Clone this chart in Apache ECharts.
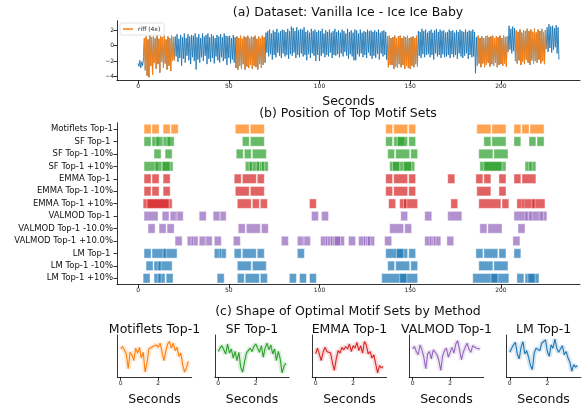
<!DOCTYPE html>
<html><head><meta charset="utf-8">
<script src="https://cdn.jsdelivr.net/npm/echarts@6/dist/echarts.min.js"></script>
<style>html,body{margin:0;padding:0;background:#fff}#c{width:588px;height:408px}</style>
</head><body><div id="c"></div><script>
// ---------- (a) time series, sampled every 0.5 s from t = 0 ----------
const sampleStep = 0.5;
const signal = [
-2.3,-2.7,-1.9,-2.9,-2.1,-2.6,-1.7,1.0,-3.2,1.2,
-3.9,0.8,-4.1,1.3,-2.6,1.1,-3.8,1.2,-2.2,1.0,
-3.0,1.3,-2.4,0.9,-3.5,1.2,-2.1,1.1,-2.9,1.3,
-2.3,0.8,-3.1,1.2,-2.6,1.0,-3.3,1.3,-2.0,1.1,
-1.9,1.2,-1.4,1.5,-2.1,0.9,-1.6,1.4,-2.6,1.1,
-1.7,1.6,-2.2,1.0,-1.3,1.5,-1.9,1.2,-2.4,1.4,
-1.5,1.3,-2.0,1.6,-3.1,1.1,-1.8,1.5,-2.2,1.0,
-1.5,1.6,-2.0,1.2,-1.3,1.4,-2.4,1.6,-1.7,1.1,
-2.1,1.5,-1.6,1.3,-2.3,1.0,-1.4,1.4,-1.9,1.2,
-2.2,1.5,-1.5,1.1,-2.0,1.6,-1.7,1.3,-2.5,1.2,
-1.6,1.3,-2.3,1.0,-1.8,1.4,-2.2,1.1,-2.9,1.2,
-3.1,1.0,-2.6,1.3,-3.0,0.9,-2.4,1.2,-3.1,1.1,
-2.7,1.3,-2.9,1.0,-2.5,1.2,-3.0,1.1,-2.6,1.3,
-2.8,0.9,-3.1,1.2,-2.4,1.0,-2.9,1.3,-2.5,1.1,
-2.2,1.7,-0.9,1.9,-1.4,2.1,-1.1,1.6,-1.8,2.0,
-1.2,1.8,-1.5,2.2,-0.9,1.7,-1.3,1.9,-1.6,2.1,
-1.0,2.0,-1.4,1.8,-1.2,2.2,-1.7,1.9,-1.1,2.5,
-1.3,2.3,-0.9,1.9,-1.6,2.4,-1.2,2.0,-1.5,2.2,
-1.0,2.1,-1.4,2.4,-1.2,1.8,-1.9,2.0,-1.1,1.7,
-1.6,2.2,-1.0,1.9,-1.3,2.1,-2.0,1.8,-1.2,2.0,
-2.0,1.9,-1.3,2.2,-1.0,1.6,-1.5,2.0,-1.2,1.8,
-1.4,2.1,-0.9,1.7,-1.6,1.9,-1.2,2.2,-1.3,1.8,
-1.1,2.0,-1.5,1.7,-1.0,2.1,-1.4,1.9,-0.8,1.6,
-1.3,2.2,-1.7,1.8,-1.1,2.0,-1.4,1.7,-1.9,2.1,
-1.9,2.0,-1.1,1.6,-1.4,2.1,-1.0,1.7,-1.5,1.9,
-1.2,1.8,-1.6,2.1,-0.9,1.9,-1.3,2.0,-1.7,1.8,
-1.3,2.0,-1.6,1.8,-1.1,2.1,-1.8,1.7,-1.0,1.9,
-1.4,2.0,-1.2,1.8,-1.8,1.2,-2.8,1.3,-2.5,1.0,
-2.5,1.1,-3.0,1.3,-2.7,1.0,-2.9,1.2,-2.4,1.3,
-2.8,1.0,-2.5,1.2,-3.0,1.1,-2.6,1.3,-2.9,1.0,
-3.0,1.1,-2.6,1.2,-2.8,1.0,-2.4,1.3,-2.7,1.9,
-1.3,1.8,-1.6,2.2,-1.1,1.9,-1.5,2.1,-1.2,1.7,
-1.1,1.9,-1.5,2.1,-1.2,1.7,-1.8,2.0,-1.0,2.2,
-1.4,1.8,-1.2,2.1,-1.6,1.9,-1.1,2.0,-1.5,1.7,
-1.4,1.8,-1.2,2.1,-1.6,1.9,-1.1,2.0,-1.5,1.7,
-1.2,2.0,-1.7,1.8,-1.0,2.1,-1.4,1.9,-1.6,1.8,
-1.3,2.1,-1.0,1.8,-1.7,2.0,-1.2,1.9,-1.5,2.1,
-1.4,1.8,-3.6,1.1,-2.6,1.3,-2.3,1.0,-2.8,1.2,
-2.3,1.0,-2.8,1.2,-2.5,1.3,-2.2,1.1,-2.7,1.2,
-2.4,1.3,-2.6,1.0,-2.2,1.2,-2.8,1.1,-2.5,1.3,
-2.4,1.0,-2.6,1.3,-2.3,1.1,-2.7,1.2,-0.8,2.6,
-0.5,2.2,-1.0,2.5,-0.7,2.3,-2.0,2.0,-2.3,1.8,
-1.9,2.1,-2.5,1.7,-2.1,2.0,-2.4,1.9,-1.8,2.2,
-2.2,1.9,-2.5,2.1,-1.9,1.8,-2.3,2.2,-2.0,1.7,
-2.2,2.1,-1.8,1.9,-2.3,2.2,-2.0,1.8,-2.4,2.0,
-0.4,2.4,-0.8,2.8,-0.3,2.5,-0.9,2.6,-0.5,2.3,
-0.2,2.7,-1.0,2.4,-1.8
];
const riffSegments = [[3,20],[54,70],[137.5,154],[187,204],[208,225]];
const timeTicks = [0,50,100,150,200];
const ampTicks = [-4,-2,0,2];

// ---------- (b) motif positions: [start s, end s] ----------
const rowLabels = ['Motiflets Top-1','SF Top-1 ','SF Top-1 -10%','SF Top-1 +10%','EMMA Top-1 ','EMMA Top-1 -10%','EMMA Top-1 +10%','VALMOD Top-1 ','VALMOD Top-1 -10.0%','VALMOD Top-1 +10.0%','LM Top-1 ','LM Top-1 -10%','LM Top-1 +10%'];
const rowColors = ['#ff7f0e','#2ca02c','#2ca02c','#2ca02c','#d62728','#d62728','#d62728','#9467bd','#9467bd','#9467bd','#1f77b4','#1f77b4','#1f77b4'];
const motifletsTop1 = [[3.3,7.2],[7.7,11.6],[13.8,17.7],[18.2,22.1],[53.6,61.3],[61.9,69.6],[136.5,140.3],[140.9,148.6],[149.2,153.0],[186.7,194.5],[195.0,202.8],[207.2,211.0],[211.6,215.5],[216.0,223.8]];
const sfTop1 = [[3.3,7.2],[7.7,11.6],[9.9,13.8],[13.8,17.7],[16.0,19.9],[57.5,61.3],[61.9,69.6],[136.5,140.3],[140.9,146.8],[142.9,148.6],[149.2,153.0],[190.6,194.5],[195.0,202.8],[207.2,211.0],[215.5,219.3],[219.9,223.8]];
const sfTop1Minus10 = [[8.8,12.7],[14.9,18.8],[54.1,58.0],[58.6,62.4],[63.0,70.7],[137.6,141.4],[142.0,149.7],[150.3,154.1],[187.8,195.6],[196.1,203.9]];
const sfTop1Plus10 = [[3.3,11.0],[9.4,13.3],[13.3,19.3],[13.3,17.7],[59.1,71.8],[61.3,63.0],[65.2,66.9],[68.0,69.6],[138.7,152.5],[140.3,144.2],[146.4,150.8],[188.4,202.8],[190.6,200.6],[213.3,219.3],[215.5,217.1]];
const emmaTop1 = [[3.3,7.2],[7.7,11.6],[13.8,17.7],[53.0,56.9],[57.5,65.2],[65.7,69.6],[136.5,140.3],[140.9,148.6],[149.2,153.0],[170.7,174.6],[186.2,190.1],[190.6,194.5],[198.9,202.8],[207.2,211.0],[211.6,219.3]];
const emmaTop1Minus10 = [[3.3,7.2],[7.7,11.6],[13.8,17.7],[53.6,61.3],[61.9,69.6],[136.5,140.3],[140.9,148.6],[149.2,153.0],[186.7,194.5],[198.9,202.8]];
const emmaTop1Plus10 = [[2.8,18.8],[5.0,17.1],[54.7,62.4],[63.0,66.9],[67.4,71.3],[94.5,98.3],[138.1,142.0],[144.2,154.1],[146.4,148.1],[172.4,176.2],[187.8,200.0],[200.6,204.4],[208.8,224.3],[211.6,212.7],[217.1,218.8]];
const valmodTop1 = [[3.3,11.0],[13.3,17.1],[17.7,24.9],[21.0,21.5],[33.7,37.6],[41.4,48.6],[44.9,45.4],[95.6,99.4],[101.1,105.0],[144.8,148.6],[158.0,161.9],[170.7,178.5],[207.2,225.4],[213.3,214.9],[215.5,217.1],[221.5,223.2]];
const valmodTop1Minus10 = [[5.5,9.4],[11.6,15.5],[16.0,19.9],[55.2,59.1],[59.7,67.4],[68.0,71.8],[138.7,146.4],[147.0,150.8],[188.4,192.3],[192.8,200.6],[209.4,213.3]];
const valmodTop1Plus10 = [[20.4,24.3],[27.1,33.1],[29.3,30.4],[33.7,40.9],[37.0,37.5],[42.0,45.9],[52.5,56.4],[79.0,82.9],[87.8,95.0],[91.0,91.5],[100.6,113.8],[103.3,104.4],[106.1,107.2],[108.3,111.6],[116.0,119.9],[121.5,130.4],[124.3,125.4],[126.5,128.2],[135.9,139.8],[158.0,166.9],[160.8,161.9],[163.0,164.1],[170.2,174.0],[206.6,210.5]];
const lmTop1 = [[3.3,7.2],[7.7,21.5],[13.8,15.5],[42.0,48.6],[44.8,45.9],[53.0,56.9],[57.5,65.2],[65.7,69.6],[87.8,91.7],[136.5,148.6],[142.5,146.4],[149.2,153.0],[186.2,190.1],[190.6,198.3],[198.9,202.8],[207.2,211.0]];
const lmTop1Minus10 = [[4.4,8.3],[8.8,18.8],[11.0,12.7],[54.7,62.4],[63.0,70.7],[137.6,141.4],[142.0,149.7],[150.3,154.1],[187.8,195.6],[196.1,203.9]];
const lmTop1Plus10 = [[2.8,6.6],[8.8,14.9],[11.0,12.7],[15.5,19.3],[43.6,47.5],[54.7,58.6],[59.1,66.9],[67.4,71.3],[83.4,87.3],[89.0,92.8],[94.5,98.3],[134.3,154.1],[144.2,148.1],[184.5,204.4],[194.5,198.3],[208.8,212.7],[213.3,221.0],[214.9,218.8]];
const rowIntervals = [motifletsTop1,sfTop1,sfTop1Minus10,sfTop1Plus10,emmaTop1,emmaTop1Minus10,emmaTop1Plus10,valmodTop1,valmodTop1Minus10,valmodTop1Plus10,lmTop1,lmTop1Minus10,lmTop1Plus10];

// ---------- (c) motif shapes, sampled every 0.1 s ----------
const shapeStep = 0.1;
const shapeTitles = ['Motiflets Top-1','SF Top-1','EMMA Top-1','VALMOD Top-1','LM Top-1'];
const shapeColors = ['#ff7f0e','#2ca02c','#d62728','#9467bd','#1f77b4'];
const shapeTicks = [0,2];
const motifletsShape = [0.8,1.1,1.3,0.2,-1.6,0.4,0.1,-0.6,0.9,0.3,1.0,-0.3,0.4,-2.0,-0.9,0.8,0.6,1.1,0.9,1.3,1.0,1.5,1.6,-0.6,0.5,1.4,1.7,0.9,1.5,0.6,1.0,-0.1,0.3,-1.1,-2.0,-1.5,-0.7];
const sfShape = [0.5,0.9,1.2,0.7,0.2,1.4,0.3,0.8,-0.3,0.5,-0.6,0.4,-1.4,-2.0,-0.8,0.3,0.6,0.9,0.5,1.1,1.4,1.6,0.4,1.2,-0.2,0.9,1.5,0.7,1.3,0.2,0.8,-0.6,0.5,-0.4,-2.1,-1.3,-0.9];
const emmaShape = [0.2,0.9,1.0,-0.6,0.4,1.0,0.5,0.7,0.3,-0.9,-1.8,-0.4,0.6,0.3,1.0,0.7,1.1,0.8,1.4,0.5,1.2,0.9,1.6,0.6,1.2,0.3,1.7,1.3,0.2,0.5,-0.3,0.1,-1.0,-2.1,-1.2,-1.5,-1.3];
const valmodShape = [0.8,1.1,0.5,0.1,1.3,0.7,-0.2,-1.6,0.2,0.5,-0.4,0.7,0.9,0.1,-0.6,-1.8,0.0,0.6,0.9,-0.2,0.4,1.0,0.3,1.4,1.8,0.7,-0.5,0.4,1.0,1.5,0.8,0.4,1.2,1.4,0.9,0.7,0.8];
const lmShape = [0.4,0.9,1.3,1.6,0.2,-0.4,1.0,1.7,0.2,0.6,-0.2,-1.2,-1.7,0.3,0.9,1.1,0.6,1.5,1.4,1.9,0.5,-0.1,1.3,0.9,2.0,0.9,0.4,0.8,1.2,0.1,0.5,-0.3,-0.8,-1.9,-1.1,-1.4,-1.2];
const shapes = [motifletsShape,sfShape,emmaShape,valmodShape,lmShape];

// ---------- build ----------
const FONT = 'DejaVu Sans';
const TXT = '#111';
const minusFmt = v => String(v).replace('-', '\u2212');
const line = {show:true, onZero:false, lineStyle:{color:'#000', width:0.8}};
const tick = vals => ({show:true, length:3.5, customValues:vals, lineStyle:{color:'#000', width:0.8}});
const lab = (vals, fs) => ({show:true, customValues:vals, fontSize:fs, color:'#222', fontFamily:FONT, margin:3, formatter:minusFmt});

const blueData = signal.map((v,i)=>[i*sampleStep, v]);
const orangeData = [];
riffSegments.forEach(([a,b])=>{
  signal.forEach((v,i)=>{ const t=i*sampleStep; if(t>=a && t<=b) orangeData.push([t,v]); });
  orangeData.push([b+0.25,null]);
});

const intervalData = [];
rowIntervals.forEach((arr,r)=>arr.forEach(([s,e])=>intervalData.push({value:[s,e,r], itemStyle:{color:rowColors[r]}})));

const cLeft = [117.3,214.8,312.2,409.2,506.4];
const cW = 74.4;

const grids = [
  {left:117, width:463, top:20.8, height:59.8},
  {left:117, width:463, top:122.8, height:161.7}
];
cLeft.forEach(l=>grids.push({left:l, width:cW, top:335, height:42}));

const xAxes = [
  {gridIndex:0, type:'value', min:-11.6, max:243.6, axisLine:line, axisTick:tick(timeTicks), axisLabel:lab(timeTicks,6), splitLine:{show:false},
   name:'Seconds', nameLocation:'middle', nameGap:15, nameTextStyle:{fontSize:12.5, color:TXT, fontFamily:FONT}},
  {gridIndex:1, type:'value', min:-11.6, max:243.6, axisLine:line, axisTick:tick(timeTicks), axisLabel:lab(timeTicks,6), splitLine:{show:false}}
];
const yAxes = [
  {gridIndex:0, type:'value', min:-4.55, max:3.25, axisLine:line, axisTick:tick(ampTicks), axisLabel:lab(ampTicks,6), splitLine:{show:false}},
  {gridIndex:1, type:'category', data:rowLabels, inverse:true, axisLine:line,
   axisTick:{show:true, length:3.5, alignWithLabel:true, lineStyle:{color:'#000', width:0.8}},
   axisLabel:{fontSize:8.5, color:TXT, fontFamily:FONT, margin:4}, splitLine:{show:false}}
];
cLeft.forEach((l,i)=>{
  xAxes.push({gridIndex:2+i, type:'value', min:-0.18, max:3.78, axisLine:line, axisTick:tick(shapeTicks), axisLabel:lab(shapeTicks,6), splitLine:{show:false},
    name:'Seconds', nameLocation:'middle', nameGap:16, nameTextStyle:{fontSize:12.5, color:TXT, fontFamily:FONT}});
  yAxes.push({gridIndex:2+i, type:'value', min:-2.6, max:2.5, axisLine:line, axisTick:{show:false}, axisLabel:{show:false}, splitLine:{show:false}});
});

const series = [
  {type:'line', name:'signal', xAxisIndex:0, yAxisIndex:0, data:blueData, symbol:'none', lineStyle:{color:'#1f77b4', width:0.9}, itemStyle:{color:'#1f77b4'}},
  {type:'line', name:'riff (4x)', xAxisIndex:0, yAxisIndex:0, data:orangeData, symbol:'none', connectNulls:false, lineStyle:{color:'#ff7f0e', width:0.9}, itemStyle:{color:'#ff7f0e'}},
  {type:'custom', xAxisIndex:1, yAxisIndex:1, data:intervalData, encode:{x:[0,1], y:2},
   renderItem:(params, api)=>{
     const s = api.coord([api.value(0), api.value(2)]);
     const e = api.coord([api.value(1), api.value(2)]);
     const h = api.size([0,1])[1]*0.76;
     return {type:'rect', shape:{x:s[0], y:s[1]-h/2, width:e[0]-s[0], height:h},
       style:{fill:api.visual('color'), stroke:'#fff', lineWidth:0.6, opacity:0.72}};
   }}
];
shapes.forEach((arr,i)=>{
  const d = arr.map((v,k)=>[k*shapeStep, v]);
  series.push({type:'line', xAxisIndex:2+i, yAxisIndex:2+i, data:d, symbol:'none', lineStyle:{color:shapeColors[i], width:5, opacity:0.18}, silent:true});
  series.push({type:'line', xAxisIndex:2+i, yAxisIndex:2+i, data:d, symbol:'none', lineStyle:{color:shapeColors[i], width:1.1}});
});

const tstyle = {fontSize:12.5, fontWeight:'normal', color:TXT, fontFamily:FONT};
const titles = [
  {text:'(a) Dataset: Vanilla Ice - Ice Ice Baby', left:348, top:6, textAlign:'center', textStyle:tstyle, padding:0},
  {text:'(b) Position of Top Motif Sets', left:348, top:107, textAlign:'center', textStyle:tstyle, padding:0},
  {text:'(c) Shape of Optimal Motif Sets by Method', left:348, top:305, textAlign:'center', textStyle:tstyle, padding:0}
];
cLeft.forEach((l,i)=>titles.push({text:shapeTitles[i], left:l+cW/2, top:323, textAlign:'center', textStyle:tstyle, padding:0}));

const chart = echarts.init(document.getElementById('c'), null, {renderer:'canvas'});
chart.setOption({
  animation:false,
  backgroundColor:'#fff',
  title:titles,
  legend:{data:['riff (4x)'], left:120, top:23, icon:'rect', itemWidth:10, itemHeight:1.5, itemGap:2,
    textStyle:{fontSize:6, color:'#222', fontFamily:FONT}, borderColor:'#d0d0d0', borderWidth:0.6, borderRadius:2, padding:[3,4,3,3], backgroundColor:'#fff'},
  grid:grids, xAxis:xAxes, yAxis:yAxes, series:series
});
</script></body></html>
